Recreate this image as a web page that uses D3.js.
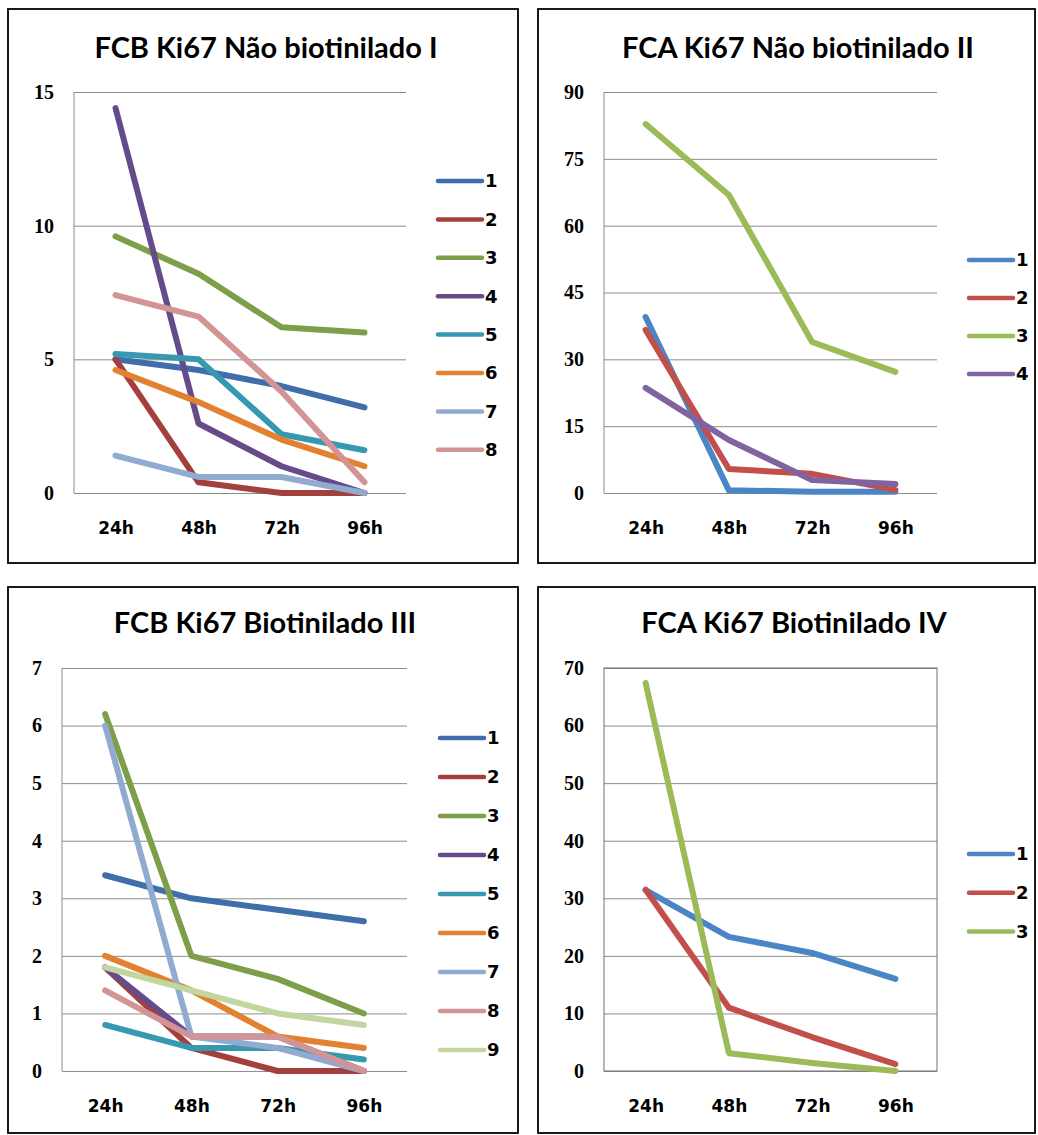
<!DOCTYPE html>
<html>
<head>
<meta charset="utf-8">
<script src="https://cdn.jsdelivr.net/npm/d3@7"></script>
<style>
  body { margin: 0; background: #fff; }
</style>
</head>
<body>
<div id="container"></div>
<script>
// categories (x axis)
const hours = ['24h', '48h', '72h', '96h']

// titles
const titles = [
  'FCB Ki67 Não biotinilado I',
  'FCA Ki67 Não biotinilado II',
  'FCB Ki67 Biotinilado III',
  'FCA Ki67 Biotinilado IV'
]

// panel I
const names1 = ['1', '2', '3', '4', '5', '6', '7', '8']
const values1 = [
  [5.0, 4.6, 4.0, 3.2],
  [5.0, 0.4, 0, 0],
  [9.6, 8.2, 6.2, 6.0],
  [14.4, 2.6, 1.0, 0],
  [5.2, 5.0, 2.2, 1.6],
  [4.6, 3.4, 2.0, 1.0],
  [1.4, 0.6, 0.6, 0],
  [7.4, 6.6, 3.8, 0.4]
]
const ticks1 = [0, 5, 10, 15]

// panel II
const names2 = ['1', '2', '3', '4']
const values2 = [
  [39.5, 0.6, 0.3, 0.3],
  [36.6, 5.4, 4.3, 0.7],
  [82.8, 66.9, 33.9, 27.2],
  [23.6, 11.9, 2.9, 2.0]
]
const ticks2 = [0, 15, 30, 45, 60, 75, 90]

// panel III
const names3 = ['1', '2', '3', '4', '5', '6', '7', '8', '9']
const values3 = [
  [3.4, 3.0, 2.8, 2.6],
  [1.8, 0.4, 0, 0],
  [6.2, 2.0, 1.6, 1.0],
  [1.8, 0.6, 0.6, 0],
  [0.8, 0.4, 0.4, 0.2],
  [2.0, 1.4, 0.6, 0.4],
  [6.0, 0.6, 0.4, 0],
  [1.4, 0.6, 0.6, 0],
  [1.8, 1.4, 1.0, 0.8]
]
const ticks3 = [0, 1, 2, 3, 4, 5, 6, 7]

// panel IV
const names4 = ['1', '2', '3']
const values4 = [
  [31.4, 23.3, 20.5, 16.0],
  [31.5, 11.0, 5.9, 1.2],
  [67.4, 3.1, 1.4, 0]
]
const ticks4 = [0, 10, 20, 30, 40, 50, 60, 70]

// colours
const darkColors = ['#3f6eab', '#a33f3c', '#7e9f4a', '#654b89', '#3798b1', '#e2812f', '#90aad0', '#d29494', '#c2d69f']
const lightColors = ['#4a86c6', '#c24f4c', '#9bbb59', '#8064a2']


/**
 * draws one chart panel
 */
function drawPanel(svg, p) {
  const g = svg.append('g')

  // frame
  g.append('rect')
    .attr('x', p.box[0])
    .attr('y', p.box[1])
    .attr('width', p.box[2] - p.box[0])
    .attr('height', p.box[3] - p.box[1])
    .attr('fill', '#fff')
    .attr('stroke', '#000')
    .attr('stroke-width', 1.8)

  const x = d3.scalePoint()
    .domain(hours)
    .range([p.left, p.right])
    .padding(0.5)

  const y = d3.scaleLinear()
    .domain([0, d3.max(p.ticks)])
    .range([p.bottom, p.top])

  // gridlines + y labels
  const yAxis = d3.axisLeft(y)
    .tickValues(p.ticks)
    .tickFormat(d3.format('d'))
    .tickSize(-(p.right - p.left))
    .tickPadding(20)
  const ya = g.append('g')
    .attr('transform', `translate(${p.left},0)`)
    .call(yAxis)
  ya.select('.domain').remove()
  ya.selectAll('line').attr('stroke', '#8c8c8c').attr('stroke-width', 1)
  ya.selectAll('text')
    .style('fill', '#000')
    .style('font-family', '"Liberation Serif", serif')
    .style('font-weight', 'bold')
    .style('font-size', '20px')

  // vertical axis line (or full box)
  if (p.boxed) {
    g.append('rect')
      .attr('x', p.left)
      .attr('y', p.top)
      .attr('width', p.right - p.left)
      .attr('height', p.bottom - p.top)
      .attr('fill', 'none')
      .attr('stroke', '#6e6e6e')
  } else {
    g.append('line')
      .attr('x1', p.left)
      .attr('x2', p.left)
      .attr('y1', p.top)
      .attr('y2', p.bottom)
      .attr('stroke', '#8c8c8c')
  }

  // x labels
  const xa = g.append('g')
    .attr('transform', `translate(0,${p.bottom})`)
    .call(d3.axisBottom(x).tickSize(0).tickPadding(29))
  xa.select('.domain').remove()
  xa.selectAll('text')
    .style('fill', '#000')
    .style('font-family', '"DejaVu Sans", sans-serif')
    .style('font-weight', 'bold')
    .style('font-size', '17px')

  // series lines
  const line = d3.line()
    .x((d, i) => x(hours[i]))
    .y(d => y(d))
  p.values.forEach((v, i) => {
    g.append('path')
      .datum(v)
      .attr('d', line)
      .attr('fill', 'none')
      .attr('stroke', p.colors[i])
      .attr('stroke-width', 6)
      .attr('stroke-linecap', 'round')
      .attr('stroke-linejoin', 'round')
  })

  // legend
  p.names.forEach((n, i) => {
    const ly = p.legendY + i * p.legendStep
    g.append('line')
      .attr('x1', p.legendX)
      .attr('x2', p.legendX + 44)
      .attr('y1', ly)
      .attr('y2', ly)
      .attr('stroke', p.colors[i])
      .attr('stroke-width', 4.5)
      .attr('stroke-linecap', 'round')
    g.append('text')
      .attr('x', p.legendX + 47)
      .attr('y', ly)
      .attr('dy', '0.36em')
      .style('font-family', '"DejaVu Sans", sans-serif')
      .style('font-weight', 'bold')
      .style('font-size', '18px')
      .text(n)
  })

  // title
  g.append('text')
    .attr('x', p.titleX)
    .attr('y', p.titleY)
    .attr('text-anchor', 'middle')
    .style('font-family', 'Lato, sans-serif')
    .style('font-weight', 'bold')
    .style('font-size', '29px')
    .text(p.title)
}


function init() {
  const svg = d3.select('#container').append('svg')
    .attr('width', 1038)
    .attr('height', 1135)

  const panels = [
    {
      title: titles[0], names: names1, values: values1, ticks: ticks1, colors: darkColors,
      box: [8, 9, 518, 563], left: 74, right: 406, top: 92, bottom: 493,
      titleX: 266, titleY: 58, legendX: 438, legendY: 181, legendStep: 38.4
    },
    {
      title: titles[1], names: names2, values: values2, ticks: ticks2, colors: lightColors,
      box: [538, 9, 1035, 563], left: 604, right: 937, top: 92, bottom: 493,
      titleX: 798, titleY: 58, legendX: 969, legendY: 260, legendStep: 38
    },
    {
      title: titles[2], names: names3, values: values3, ticks: ticks3, colors: darkColors,
      box: [8, 587, 518, 1133], left: 62, right: 407, top: 668, bottom: 1071,
      titleX: 265, titleY: 633, legendX: 440, legendY: 738, legendStep: 39
    },
    {
      title: titles[3], names: names4, values: values4, ticks: ticks4, colors: lightColors,
      box: [538, 587, 1035, 1133], left: 604, right: 937, top: 668, bottom: 1071, boxed: true,
      titleX: 794, titleY: 633, legendX: 969, legendY: 854, legendStep: 38.7
    }
  ]

  panels.forEach(p => drawPanel(svg, p))
}

init()
</script>
</body>
</html>
